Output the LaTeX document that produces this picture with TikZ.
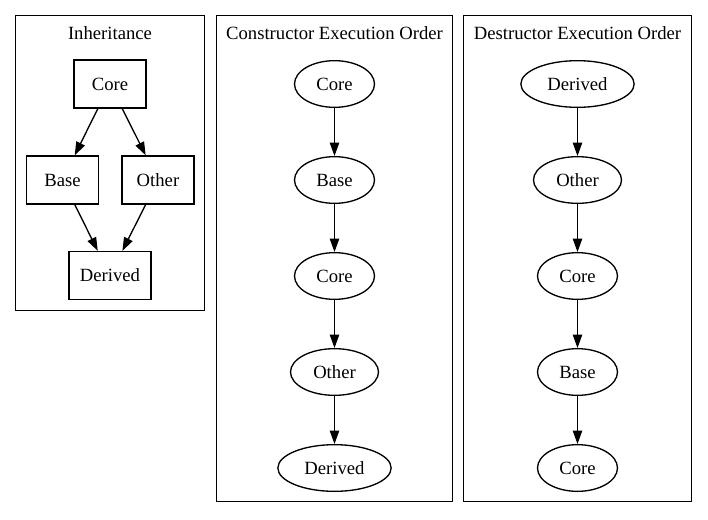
\documentclass[tikz,border=0pt]{standalone}
\usepackage{fontspec}
\setmainfont{Liberation Serif}
\usetikzlibrary{arrows.meta,shapes.geometric}
\begin{document}
\begin{tikzpicture}[x=0.75pt,y=-0.75pt,
  every node/.style={font=\fontsize{14}{16}\selectfont},
  boxnode/.style={draw,line width=1pt,rectangle,minimum width=54pt,minimum height=36pt,inner sep=0pt},
  ellnode/.style={draw,line width=1pt,ellipse,minimum width=60pt,minimum height=35pt,inner sep=0pt},
  cluster/.style={draw,line width=1pt},
  edge/.style={line width=1pt,-{Triangle[length=10pt,width=7pt]}},
  title/.style={inner sep=0pt}]
\useasboundingbox (0,0) rectangle (708,519);
\fill[white] (0,0) rectangle (708,519);
% clusters
\draw[cluster] (15.5,15.5) rectangle (204.5,310.5);
\draw[cluster] (216.5,15.5) rectangle (452.5,501.5);
\draw[cluster] (463.5,15.5) rectangle (691.5,501.5);
\node[title] (t1) at (110,33) {Inheritance};
\node[title] (t2) at (334.5,33) {Constructor Execution Order};
\node[title] (t3) at (577.5,33) {Destructor Execution Order};
% inheritance
\node[boxnode] (icore) at (110,84) {Core};
\node[boxnode] (ibase) at (62.5,180) {Base};
\node[boxnode] (iother) at (158,180) {Other};
\node[boxnode,minimum width=61.5pt] (iderived) at (110,275.5) {Derived};
\draw[edge] (icore) -- (ibase);
\draw[edge] (icore) -- (iother);
\draw[edge] (ibase) -- (iderived);
\draw[edge] (iother) -- (iderived);
% constructor
\node[ellnode] (c1) at (334.5,84) {Core};
\node[ellnode] (c2) at (334.5,180) {Base};
\node[ellnode] (c3) at (334.5,276) {Core};
\node[ellnode,minimum width=66pt] (c4) at (334.5,372) {Other};
\node[ellnode,minimum width=85pt] (c5) at (334.5,468) {Derived};
\draw[edge] (c1) -- (c2);
\draw[edge] (c2) -- (c3);
\draw[edge] (c3) -- (c4);
\draw[edge] (c4) -- (c5);
% destructor
\node[ellnode,minimum width=85pt] (d1) at (577.5,84) {Derived};
\node[ellnode,minimum width=66pt] (d2) at (577.5,180) {Other};
\node[ellnode] (d3) at (577.5,276) {Core};
\node[ellnode] (d4) at (577.5,372) {Base};
\node[ellnode] (d5) at (577.5,468) {Core};
\draw[edge] (d1) -- (d2);
\draw[edge] (d2) -- (d3);
\draw[edge] (d3) -- (d4);
\draw[edge] (d4) -- (d5);
\end{tikzpicture}
\end{document}
